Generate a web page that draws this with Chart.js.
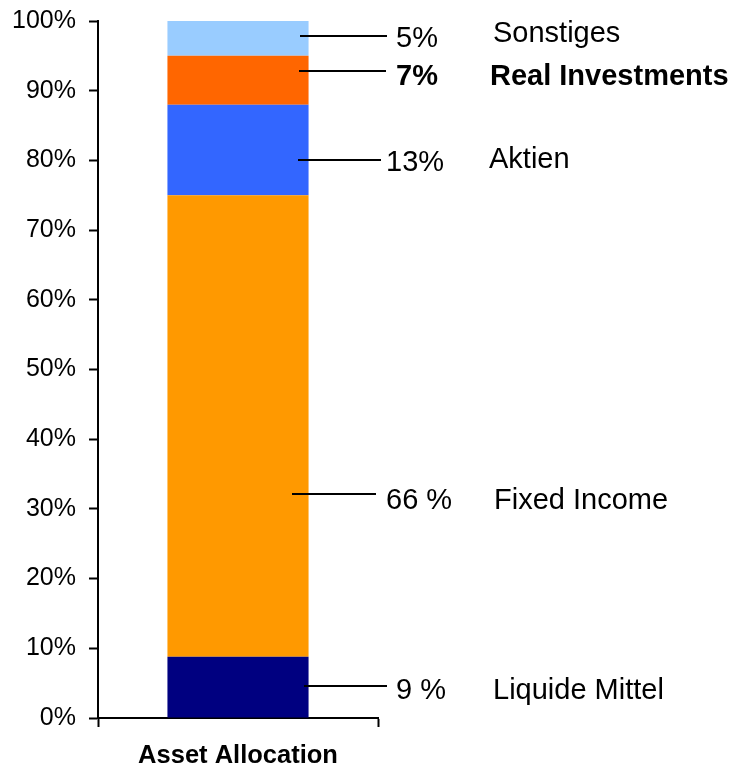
<!DOCTYPE html>
<html>
<head>
<meta charset="utf-8">
<script src="https://cdn.jsdelivr.net/npm/chart.js@4.4.1/dist/chart.umd.min.js"></script>
<style>
  html, body { margin: 0; padding: 0; background: #fff; }
  #wrap { width: 735px; height: 768px; }
</style>
</head>
<body>
<div id="wrap"><canvas id="allocChart" width="735" height="768"></canvas></div>
<script>
// Chart - Asset Allocation
const categories = ['Asset Allocation'];
const seriesNames = ['Liquide Mittel', 'Fixed Income', 'Aktien', 'Real Investments', 'Sonstiges'];
const seriesValues = [8.8, 66.2, 13, 7, 5];
const valueLabels = ['9 %', '66 %', '13%', '7%', '5%'];
const boldLabels = [false, false, false, true, false];
const seriesColors = ['#000080', '#FF9900', '#3366FF', '#FF6600', '#99CCFF'];

const FONT = '"Liberation Sans", Arial, sans-serif';

// leader lines: where they sit on the y scale, and pixel spots for the texts
const leaders = [
  { at: 4.6,  x0: 304, x1: 387, pctX: 396, nameX: 493, pctY: 699, nameY: 699 },
  { at: 32.1, x0: 292, x1: 376, pctX: 386, nameX: 494, pctY: 509, nameY: 509 },
  { at: 80.0, x0: 298, x1: 381, pctX: 386, nameX: 489, pctY: 171, nameY: 168 },
  { at: 92.8, x0: 299, x1: 386, pctX: 396, nameX: 490, pctY: 85,  nameY: 85 },
  { at: 97.8, x0: 300, x1: 387, pctX: 396, nameX: 493, pctY: 47,  nameY: 42 }
];

const leaderPlugin = {
  id: 'leaders',
  afterDraw(chart) {
    const c = chart.ctx;
    const yScale = chart.scales.y;
    c.save();
    c.strokeStyle = '#000';
    c.lineWidth = 2;
    c.fillStyle = '#000';
    c.textAlign = 'left';
    c.textBaseline = 'alphabetic';
    leaders.forEach((l, i) => {
      const y = Math.round(yScale.getPixelForValue(l.at));
      c.beginPath();
      c.moveTo(l.x0, y);
      c.lineTo(l.x1, y);
      c.stroke();
      c.font = (boldLabels[i] ? 'bold ' : '') + '29px ' + FONT;
      c.fillText(valueLabels[i], l.pctX, l.pctY);
      c.fillText(seriesNames[i], l.nameX, l.nameY);
    });
    c.restore();
  }
};

const ctx = document.getElementById('allocChart').getContext('2d');
const allocChart = new Chart(ctx, {
  type: 'bar',
  data: {
    labels: categories,
    datasets: seriesNames.map((name, i) => ({
      label: name,
      data: [seriesValues[i]],
      backgroundColor: seriesColors[i],
      borderWidth: 0,
      categoryPercentage: 1,
      barPercentage: 0.504
    }))
  },
  options: {
    responsive: false,
    animation: false,
    layout: { padding: { top: 21, right: 357, left: 0, bottom: 0 } },
    plugins: {
      legend: { display: false },
      tooltip: { enabled: false }
    },
    scales: {
      x: {
        stacked: true,
        afterFit: (scale) => {
          scale.height = 50;
          scale.paddingLeft = 0;
          scale.paddingRight = 0;
        },
        grid: {
          drawOnChartArea: false,
          drawTicks: true,
          tickLength: 9,
          tickColor: '#000',
          tickWidth: 2
        },
        border: { color: '#000', width: 2 },
        ticks: {
          color: '#000',
          padding: 14,
          font: { family: FONT, size: 25.5, weight: 'bold' }
        }
      },
      y: {
        stacked: true,
        min: 0,
        max: 100,
        afterFit: (scale) => {
          scale.width = 98;
          scale.paddingTop = 0;
          scale.paddingBottom = 0;
        },
        grid: {
          drawOnChartArea: false,
          drawTicks: true,
          tickLength: 9,
          tickColor: '#000',
          tickWidth: 2
        },
        border: { color: '#000', width: 2 },
        ticks: {
          stepSize: 10,
          color: '#000',
          padding: 13,
          font: { family: FONT, size: 25 },
          callback: (v) => v + '%'
        }
      }
    }
  },
  plugins: [leaderPlugin]
});
</script>
</body>
</html>
